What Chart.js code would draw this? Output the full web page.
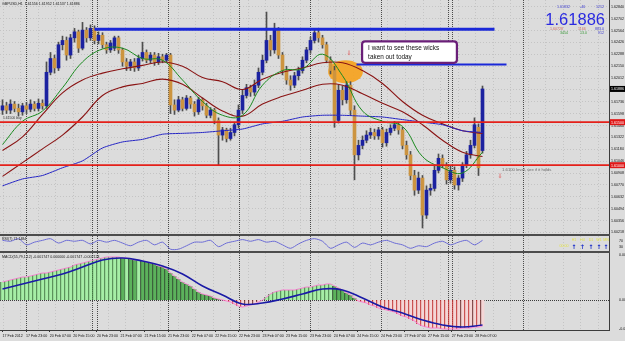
<!DOCTYPE html>
<html><head><meta charset="utf-8">
<script src="https://cdn.jsdelivr.net/npm/chart.js@4.4.1/dist/chart.umd.min.js"></script>
<style>
html,body{margin:0;padding:0;background:#dcdcdc;}
body{width:625px;height:341px;position:relative;overflow:hidden;}
canvas{position:absolute;left:0;}
.sep{position:absolute;left:0;width:610px;height:2px;background:#4c4c4c;}
</style></head><body>
<canvas id="cPrice" width="625" height="234" style="top:0"></canvas>
<div class="sep" style="top:234px"></div>
<canvas id="cRsi" width="625" height="15" style="top:236px"></canvas>
<div class="sep" style="top:251px"></div>
<canvas id="cMacd" width="625" height="88" style="top:253px"></canvas>
<script>
// ---------------- DATA ----------------
const symbolTitle = 'GBPUSD,H1  1.61556 1.61952 1.61537 1.61886';
const opens = [1.6164,1.6169,1.6164,1.6171,1.6166,1.6162,1.6169,1.6165,1.6171,1.6166,
1.6172,1.6169,1.6208,1.6224,1.6213,1.6240,1.6245,1.6228,1.6248,1.6255,
1.6236,1.6257,1.6248,1.6259,1.6245,1.6251,1.6240,1.6234,1.6236,1.6248,
1.6234,1.6220,1.6215,1.6220,1.6213,1.6224,1.6231,1.6222,1.6228,1.6220,
1.6226,1.6222,1.6228,1.6170,1.6164,1.6176,1.6166,1.6178,1.6171,1.6162,
1.6176,1.6169,1.6158,1.6164,1.6152,1.6135,1.6141,1.6131,1.6138,1.6147,
1.6164,1.6181,1.6190,1.6185,1.6193,1.6208,1.6222,1.6245,1.6234,1.6257,
1.6228,1.6210,1.6199,1.6193,1.6204,1.6210,1.6222,1.6234,1.6245,1.6254,
1.6248,1.6240,1.6222,1.6210,1.6152,1.6187,1.6176,1.6193,1.6164,1.6112,
1.6123,1.6129,1.6135,1.6138,1.6134,1.6141,1.6126,1.6138,1.6143,1.6147,
1.6141,1.6123,1.6112,1.6088,1.6071,1.6085,1.6042,1.6071,1.6073,1.6094,
1.6108,1.6100,1.6083,1.6094,1.6077,1.6085,1.6100,1.6112,1.6123,1.6144,
1.6117];
const highs = [1.6176,1.6173,1.6176,1.6174,1.6171,1.6172,1.6173,1.6176,1.6174,1.6177,
1.6176,1.6220,1.6231,1.6228,1.6243,1.6250,1.6249,1.6252,1.6259,1.6257,
1.6266,1.6260,1.6263,1.6262,1.6255,1.6254,1.6243,1.6245,1.6250,1.6250,
1.6236,1.6224,1.6223,1.6224,1.6228,1.6243,1.6234,1.6231,1.6231,1.6230,
1.6229,1.6230,1.6230,1.6176,1.6180,1.6179,1.6181,1.6180,1.6174,1.6179,
1.6178,1.6172,1.6167,1.6166,1.6155,1.6144,1.6143,1.6143,1.6150,1.6170,
1.6187,1.6194,1.6193,1.6199,1.6213,1.6228,1.6278,1.6251,1.6265,1.6260,
1.6231,1.6215,1.6204,1.6208,1.6214,1.6226,1.6237,1.6249,1.6257,1.6257,
1.6251,1.6243,1.6226,1.6215,1.6193,1.6192,1.6197,1.6197,1.6169,1.6129,
1.6134,1.6140,1.6143,1.6142,1.6144,1.6144,1.6142,1.6147,1.6151,1.6150,
1.6144,1.6128,1.6116,1.6094,1.6092,1.6088,1.6076,1.6078,1.6099,1.6113,
1.6112,1.6103,1.6099,1.6098,1.6088,1.6103,1.6116,1.6129,1.6155,1.6148,
1.6192];
const lows = [1.6159,1.6160,1.6160,1.6162,1.6157,1.6158,1.6160,1.6162,1.6163,1.6163,
1.6165,1.6166,1.6205,1.6207,1.6210,1.6234,1.6222,1.6224,1.6243,1.6231,
1.6234,1.6243,1.6245,1.6241,1.6241,1.6236,1.6230,1.6231,1.6233,1.6230,
1.6215,1.6210,1.6210,1.6209,1.6210,1.6221,1.6219,1.6219,1.6216,1.6217,
1.6219,1.6220,1.6160,1.6159,1.6162,1.6163,1.6164,1.6166,1.6157,1.6159,
1.6164,1.6155,1.6155,1.6148,1.6100,1.6129,1.6127,1.6129,1.6134,1.6143,
1.6160,1.6178,1.6180,1.6181,1.6190,1.6205,1.6219,1.6227,1.6230,1.6224,
1.6205,1.6194,1.6187,1.6190,1.6199,1.6207,1.6219,1.6230,1.6242,1.6243,
1.6236,1.6219,1.6206,1.6144,1.6149,1.6170,1.6172,1.6158,1.6083,1.6106,
1.6119,1.6126,1.6131,1.6130,1.6130,1.6121,1.6122,1.6135,1.6140,1.6136,
1.6119,1.6107,1.6083,1.6065,1.6067,1.6027,1.6038,1.6065,1.6070,1.6091,
1.6097,1.6078,1.6079,1.6072,1.6071,1.6081,1.6097,1.6108,1.6120,1.6088,
1.6114];
const closes = [1.6169,1.6164,1.6171,1.6166,1.6162,1.6169,1.6165,1.6171,1.6166,1.6172,
1.6169,1.6208,1.6224,1.6213,1.6240,1.6245,1.6228,1.6248,1.6255,1.6236,
1.6257,1.6248,1.6259,1.6245,1.6251,1.6240,1.6234,1.6242,1.6248,1.6234,
1.6220,1.6215,1.6220,1.6213,1.6224,1.6231,1.6222,1.6228,1.6220,1.6226,
1.6222,1.6228,1.6170,1.6164,1.6176,1.6166,1.6178,1.6171,1.6162,1.6176,
1.6169,1.6158,1.6164,1.6152,1.6135,1.6141,1.6131,1.6138,1.6147,1.6164,
1.6181,1.6190,1.6185,1.6193,1.6208,1.6222,1.6245,1.6234,1.6257,1.6228,
1.6210,1.6199,1.6193,1.6204,1.6210,1.6222,1.6234,1.6245,1.6254,1.6248,
1.6240,1.6222,1.6210,1.6152,1.6187,1.6176,1.6193,1.6164,1.6112,1.6123,
1.6129,1.6135,1.6138,1.6134,1.6141,1.6126,1.6138,1.6143,1.6147,1.6141,
1.6123,1.6112,1.6088,1.6071,1.6085,1.6042,1.6071,1.6073,1.6094,1.6108,
1.6100,1.6083,1.6094,1.6077,1.6085,1.6100,1.6112,1.6123,1.6147,1.6097,
1.61886];

// moving averages, one reading every 5 bars
const maStep = 5;
const maGreen = [1.6124,1.6151,1.6163,1.6190,1.6220,1.6235,1.6236,1.6224,1.6222,1.6199,1.6174,1.6158,1.6158,1.6193,1.6210,1.6212,1.6229,1.6204,1.6163,1.6151,1.6145,1.6110,1.6097,1.6091,1.6115];
const maRed1 = [1.6117,1.6133,1.6159,1.6184,1.6199,1.6207,1.6212,1.6216,1.6220,1.6215,1.6202,1.6197,1.6188,1.6200,1.6208,1.6213,1.6219,1.6219,1.6210,1.6195,1.6174,1.6158,1.6148,1.6140,1.6137];
const maRed2 = [1.6087,1.6103,1.6119,1.6135,1.6156,1.6181,1.6191,1.6195,1.6200,1.6194,1.6178,1.6163,1.6157,1.6171,1.6180,1.6187,1.6194,1.6193,1.6183,1.6172,1.6162,1.6147,1.6129,1.6115,1.6110];
const maBlue = [1.6076,1.6084,1.6088,1.6097,1.6105,1.6120,1.6127,1.6130,1.6136,1.6137,1.6138,1.6140,1.6142,1.6148,1.6151,1.6156,1.6158,1.6158,1.6157,1.6156,1.6153,1.6150,1.6147,1.6140,1.6138];

// horizontal levels
const redLevels = [1.6150, 1.6100];
const blueLevels = [1.6258, 1.6217];
const blueFrom = [23, 88.5];
const blueTo = [123, 126];
const blueWidths = [3, 2];

// price axis ticks
const priceTicks = [1.62840,1.62702,1.62564,1.62426,1.62288,1.62150,1.62012,1.61874,1.61736,1.61598,1.61460,1.61322,1.61184,1.61046,1.60908,1.60770,1.60632,1.60494,1.60356,1.60218];

// RSI(7), one reading every 2 bars
const rsiStep = 2;
const rsi = [71,65,82,41,59,71,82,53,71,65,71,47,71,59,71,53,35,59,71,41,59,12,12,35,59,59,71,29,53,65,76,65,76,59,65,41,18,47,71,82,65,18,41,59,24,53,41,59,71,53,41,18,35,29,53,65,41,59,71,41,71];

// MACD histogram (per bar) and signal (every 5 bars)
const macdHist = [0.0018,0.0019,0.0020,0.0021,0.0022,0.0023,0.0023,0.0024,0.0025,0.0026,
0.0027,0.0027,0.0028,0.0029,0.0030,0.0031,0.0032,0.0033,0.0035,0.0036,
0.0037,0.0038,0.0039,0.0040,0.0041,0.0042,0.0043,0.0043,0.0043,0.0043,
0.0042,0.0042,0.0041,0.0040,0.0040,0.0039,0.0038,0.0037,0.0036,0.0034,
0.0033,0.0031,0.0027,0.0024,0.0021,0.0018,0.0016,0.0014,0.0011,0.0008,
0.0006,0.0005,0.0004,0.0002,0.0001,0.0000,-0.0001,-0.0002,-0.0004,-0.0006,
-0.0007,-0.0006,-0.0005,-0.0004,-0.0002,0.0000,0.0003,0.0006,0.0008,0.0009,
0.0010,0.0010,0.0010,0.0010,0.0011,0.0012,0.0013,0.0013,0.0014,0.0015,
0.0015,0.0016,0.0016,0.0014,0.0012,0.0010,0.0007,0.0005,0.0002,-0.0001,
-0.0002,-0.0003,-0.0005,-0.0006,-0.0008,-0.0009,-0.0010,-0.0011,-0.0012,-0.0014,
-0.0016,-0.0017,-0.0019,-0.0021,-0.0024,-0.0026,-0.0027,-0.0028,-0.0028,-0.0028,
-0.0029,-0.0029,-0.0029,-0.0029,-0.0029,-0.0028,-0.0028,-0.0028,-0.0027,-0.0027,
-0.0026];
const macdSignal = [0.0011,0.0016,0.0021,0.0026,0.0033,0.0040,0.0042,0.0039,0.0034,0.0026,0.0014,0.0005,-0.0004,-0.0003,0.0001,0.0006,0.0011,0.0010,0.0002,-0.0007,-0.0013,-0.0020,-0.0025,-0.0027,-0.0025];
const macdTicks = [0.0045, 0, -0.0029];
const macdTickText = ['0.004235', '0.00', '-0.002919'];

// time axis (bar index of each label)
const timeIdx = [0,5.9,11.8,17.7,23.6,29.5,35.5,41.4,47.3,53.2,59.1,65,70.9,76.9,82.8,88.7,94.6,100.5,106.4,112.3,118.2];
const timeLabels = ['17 Feb 2012','17 Feb 23:00','20 Feb 07:00','20 Feb 15:00','20 Feb 23:00','21 Feb 07:00','21 Feb 15:00','21 Feb 23:00','22 Feb 07:00','22 Feb 15:00','22 Feb 23:00','23 Feb 07:00','23 Feb 15:00','23 Feb 23:00','24 Feb 07:00','24 Feb 15:00','24 Feb 23:00','27 Feb 07:00','27 Feb 15:00','27 Feb 23:00','28 Feb 07:00'];
const separatorIdx = [5.9,22.3,23.6,41.4,59.1,76.9,94.6,111.3,112.3,130.2];

// annotations
const noteLines = ['I want to see these wicks', 'taken out today'];
const noteIdx = [89.9, 113.6];
const notePrice = [1.6244, 1.6219];
const focusIdx = 85.75, focusPrice = 1.62087, focusHalfW = 4.35, focusHalfH = 0.00134;
const levelNote = '1.6100 level, see if it holds';
const levelNoteIdx = 124.9, levelNotePrice = 1.6093;
const arrowMarks = [[86.6, 1.6228], [124.4, 1.6085]];
const lineLabel = '1.61500 buy';
const bid = 1.61886;
const infoTop = ['1.61832', '-46', '1212'];
const infoRow2 = ['1.60728', '1166', '883.0'];
const infoRow3 = ['3454', '13.0', '912'];
const rsiTitle = 'RSI(7) 71.1484';
const tfLabels = ['H1','H4','D1','W1','MN'];
const macdTitle = 'MACD(55,79,1,12) -0.001747 0.000000 -0.001747 -0.002124';

// ---------------- RENDER ----------------
const SANS = '"Liberation Sans", Arial, sans-serif';
Chart.defaults.font.family = SANS;
const xMin = -0.625, xMax = 151.625, AXW = 16, GRID_STEP = 4.375;
const idx = closes.map((_, i) => i);

function txt(ctx, s, x, y, size, color, align, weight, family) {
  ctx.font = (weight || 'normal') + ' ' + size + 'px ' + (family || SANS);
  ctx.fillStyle = color; ctx.textAlign = align || 'left'; ctx.textBaseline = 'alphabetic';
  ctx.fillText(s, x, y);
}
function drawVGrid(c) {
  const {ctx, chartArea: a, scales: {x}} = c;
  ctx.save();
  ctx.lineWidth = 1;
  ctx.strokeStyle = '#c4c4c4'; ctx.setLineDash([1, 2]);
  for (let v = 0; v <= xMax; v += GRID_STEP) {
    const px = Math.round(x.getPixelForValue(v)) + 0.5;
    ctx.beginPath(); ctx.moveTo(px, a.top); ctx.lineTo(px, a.bottom); ctx.stroke();
  }
  ctx.strokeStyle = '#4a4a4a'; ctx.setLineDash([1, 1]);
  separatorIdx.forEach(v => {
    const px = Math.round(x.getPixelForValue(v)) + 0.5;
    ctx.beginPath(); ctx.moveTo(px, a.top); ctx.lineTo(px, a.bottom); ctx.stroke();
  });
  ctx.restore();
}
function drawAxisLine(c) {
  const {ctx, chartArea: a} = c;
  ctx.save(); ctx.strokeStyle = '#3c3c3c'; ctx.lineWidth = 1;
  ctx.beginPath(); ctx.moveTo(a.right + 0.5, 0); ctx.lineTo(a.right + 0.5, a.bottom); ctx.stroke();
  ctx.restore();
}
function axisTag(c, value, text, bg) {
  const {ctx, chartArea: a, scales: {y}} = c;
  const py = y.getPixelForValue(value);
  ctx.save(); ctx.fillStyle = bg; ctx.fillRect(a.right + 1, py - 3, 15, 6);
  txt(ctx, text, a.right + 2, py + 1.5, 3.6, '#ffffff');
  ctx.restore();
}
const hiddenX = {type: 'linear', min: xMin, max: xMax, display: false, offset: false, grid: {offset: false}};
function yRight(extra) {
  return Object.assign({
    position: 'right',
    afterFit(s) { s.width = AXW; s.paddingTop = 0; s.paddingBottom = 0; },
    ticks: {font: {size: 3.6}, color: '#111', padding: 2},
    grid: {drawTicks: false, color: '#c4c4c4'},
    border: {display: false, dash: [1, 2]}
  }, extra);
}

// ---- price chart ----
const bull = '#1c22a0', bear = '#cc9440';
const pricePlugin = {
  id: 'pricePlugin',
  beforeDatasetsDraw(c) {
    const {ctx, scales: {x, y}} = c;
    drawVGrid(c);
    const cx = x.getPixelForValue(focusIdx), cy = y.getPixelForValue(focusPrice);
    const rx = x.getPixelForValue(focusIdx + focusHalfW) - cx;
    const ry = cy - y.getPixelForValue(focusPrice + focusHalfH);
    ctx.save(); ctx.fillStyle = 'rgba(245,162,32,0.93)';
    ctx.beginPath(); ctx.ellipse(cx, cy, rx, ry, 0, 0, Math.PI * 2); ctx.fill(); ctx.restore();
  },
  afterDraw(c) {
    const {ctx, chartArea: a, scales: {x, y}} = c;
    drawAxisLine(c);
    txt(ctx, symbolTitle, 2, 5, 3.6, '#1a1a1a');
    txt(ctx, lineLabel, 3, y.getPixelForValue(1.6150) - 3, 3.4, '#303030');
    // note box
    const bx0 = x.getPixelForValue(noteIdx[0]), bx1 = x.getPixelForValue(noteIdx[1]);
    const by0 = y.getPixelForValue(notePrice[0]), by1 = y.getPixelForValue(notePrice[1]);
    ctx.save();
    ctx.beginPath(); ctx.roundRect(bx0, by0, bx1 - bx0, by1 - by0, 3);
    ctx.fillStyle = '#ffffff'; ctx.fill(); ctx.lineWidth = 2.2; ctx.strokeStyle = '#6a1f78'; ctx.stroke();
    ctx.restore();
    noteLines.forEach((s, k) => txt(ctx, s, bx0 + 6, by0 + 9 + k * 9, 6.4, '#111'));
    // arrows and level note
    arrowMarks.forEach(m => txt(ctx, '\u21E9', x.getPixelForValue(m[0]), y.getPixelForValue(m[1]), 6, '#e04848', 'center', 'normal', '"DejaVu Sans", sans-serif'));
    txt(ctx, levelNote, x.getPixelForValue(levelNoteIdx), y.getPixelForValue(levelNotePrice), 4.2, '#6a6a6a');
    // top-right info
    const R = a.right - 5;
    txt(ctx, infoTop[0], R - 47, 8, 3.6, '#3a3ad0');
    txt(ctx, infoTop[1], R - 24, 8, 3.6, '#3a3ad0');
    txt(ctx, infoTop[2], R, 8, 3.6, '#3a3ad0', 'right');
    txt(ctx, bid.toFixed(5), R + 1, 25, 16.5, '#2a2ae0', 'right');
    txt(ctx, infoRow2[0], R - 54, 29.5, 3.6, '#d07060');
    txt(ctx, infoRow2[1], R - 26, 29.5, 3.6, '#d07060');
    txt(ctx, infoRow2[2], R, 29.5, 3.6, '#3a3ad0', 'right');
    txt(ctx, infoRow3[0], R - 44, 33.5, 3.6, '#3a9a3a');
    txt(ctx, infoRow3[1], R - 24, 33.5, 3.6, '#3a9a3a');
    txt(ctx, infoRow3[2], R, 33.5, 3.6, '#3a3ad0', 'right');
    // axis tags
    axisTag(c, bid, bid.toFixed(5), '#000000');
    redLevels.forEach(v => axisTag(c, v, v.toFixed(5), '#e01818'));
  }
};
const priceDatasets = [];
redLevels.forEach(v => priceDatasets.push({type: 'line', data: [{x: xMin, y: v}, {x: xMax, y: v}], borderColor: '#e4201a', borderWidth: 1.7, pointRadius: 0, order: 1}));
blueLevels.forEach((v, k) => priceDatasets.push({type: 'line', data: [{x: blueFrom[k], y: v}, {x: blueTo[k], y: v}], borderColor: '#1a28d8', borderWidth: blueWidths[k], pointRadius: 0, order: 1}));
const maPts = arr => arr.map((v, k) => ({x: k * maStep, y: v}));
priceDatasets.push({type: 'line', data: maPts(maBlue), borderColor: '#2424c4', borderWidth: 1, pointRadius: 0, tension: 0.2, order: 4});
priceDatasets.push({type: 'line', data: maPts(maRed2), borderColor: '#8a1414', borderWidth: 1.1, pointRadius: 0, tension: 0.4, order: 4});
priceDatasets.push({type: 'line', data: maPts(maRed1), borderColor: '#8a1414', borderWidth: 1.1, pointRadius: 0, tension: 0.4, order: 4});
priceDatasets.push({type: 'line', data: maPts(maGreen), borderColor: '#1a8a1e', borderWidth: 1, pointRadius: 0, tension: 0.4, order: 3});
priceDatasets.push({type: 'bar', data: idx.map(i => ({x: i, y: [lows[i], highs[i]]})), backgroundColor: '#4e4e4e', barThickness: 1, grouped: false, order: 10});
priceDatasets.push({type: 'bar', data: idx.map(i => ({x: i, y: [opens[i], closes[i]]})), backgroundColor: closes.map((v, i) => v >= opens[i] ? bull : bear), barThickness: 3, minBarLength: 1, grouped: false, order: 9});

new Chart(document.getElementById('cPrice'), {
  type: 'bar',
  data: {datasets: priceDatasets},
  options: {
    responsive: false, devicePixelRatio: 1, animation: false, events: [],
    layout: {padding: 0},
    plugins: {legend: {display: false}, tooltip: {enabled: false}},
    scales: {
      x: hiddenX,
      y: yRight({min: 1.6020, max: 1.6292,
        afterBuildTicks(s) { s.ticks = priceTicks.map(v => ({value: v})); },
        ticks: {font: {size: 3.6}, color: '#111', padding: 2, callback: v => v.toFixed(5)}})
    }
  },
  plugins: [pricePlugin]
});

// ---- RSI chart ----
const rsiPlugin = {
  id: 'rsiPlugin',
  beforeDatasetsDraw(c) { drawVGrid(c); },
  afterDraw(c) {
    const {ctx, chartArea: a} = c;
    drawAxisLine(c);
    txt(ctx, rsiTitle, 2, 4, 3.6, '#1a1a1a');
    const xs = [574, 582.5, 591, 599, 606];
    tfLabels.forEach((s, k) => txt(ctx, s, xs[k], 5, 3.6, '#e2e24a', 'center'));
    txt(ctx, '00:00', 564, 11, 3.6, '#e2e24a', 'center');
    xs.forEach(px => txt(ctx, '\u2191', px, 12.5, 6, '#1428c8', 'center', 'bold', '"DejaVu Sans", sans-serif'));
  }
};
new Chart(document.getElementById('cRsi'), {
  type: 'line',
  data: {datasets: [{data: rsi.map((v, k) => ({x: k * rsiStep, y: v})), borderColor: '#6c6cd6', borderWidth: 1, pointRadius: 0, tension: 0.25}]},
  options: {
    responsive: false, devicePixelRatio: 1, animation: false, events: [],
    layout: {padding: 0},
    plugins: {legend: {display: false}, tooltip: {enabled: false}},
    scales: {
      x: hiddenX,
      y: yRight({min: 0, max: 100,
        afterBuildTicks(s) { s.ticks = [{value: 70}, {value: 30}]; },
        grid: {display: false}})
    }
  },
  plugins: [rsiPlugin]
});

// ---- MACD chart ----
const histFill = macdHist.map((v, i) => {
  const p = i ? macdHist[i - 1] : v;
  if (v >= 0) return v >= p ? '#a6eea6' : '#5cb25c';
  return '#f4d6d6';
});
const histEdge = macdHist.map((v, i) => {
  const p = i ? macdHist[i - 1] : v;
  if (v >= 0) return v >= p ? '#2e6e2e' : '#0e320e';
  return v <= p ? '#c01616' : '#5a1010';
});
const macdPlugin = {
  id: 'macdPlugin',
  beforeDatasetsDraw(c) {
    const {ctx, chartArea: a, scales: {y}} = c;
    drawVGrid(c);
    const py = Math.round(y.getPixelForValue(0)) + 0.5;
    ctx.save(); ctx.strokeStyle = '#3a3a3a'; ctx.setLineDash([1, 1]); ctx.lineWidth = 1;
    ctx.beginPath(); ctx.moveTo(a.left, py); ctx.lineTo(a.right, py); ctx.stroke(); ctx.restore();
  },
  afterDraw(c) {
    const {ctx, chartArea: a} = c;
    drawAxisLine(c);
    ctx.save(); ctx.strokeStyle = '#3c3c3c'; ctx.lineWidth = 1;
    ctx.beginPath(); ctx.moveTo(0, a.bottom + 0.5); ctx.lineTo(a.right + 1, a.bottom + 0.5); ctx.stroke(); ctx.restore();
    txt(ctx, macdTitle, 2, 4.5, 3.6, '#1a1a1a');
  }
};
new Chart(document.getElementById('cMacd'), {
  type: 'bar',
  data: {datasets: [
    {type: 'line', data: macdSignal.map((v, k) => ({x: k * maStep, y: v})), borderColor: '#1a1aa6', borderWidth: 1.6, pointRadius: 0, tension: 0.4, order: 1},
    {type: 'line', data: idx.map(i => ({x: i, y: macdHist[i]})), borderColor: '#ff72d2', borderWidth: 1, pointRadius: 0, tension: 0.2, order: 2},
    {type: 'bar', data: idx.map(i => ({x: i, y: macdHist[i]})), backgroundColor: histFill, borderColor: histEdge,
      borderWidth: {left: 1, right: 0, top: 0, bottom: 0}, borderSkipped: false, barThickness: 4, order: 5}
  ]},
  options: {
    responsive: false, devicePixelRatio: 1, animation: false, events: [],
    layout: {padding: 0},
    plugins: {legend: {display: false}, tooltip: {enabled: false}},
    scales: {
      x: {type: 'linear', min: xMin, max: xMax, position: 'bottom', offset: false,
        afterBuildTicks(s) { s.ticks = timeIdx.map(v => ({value: v})); },
        afterFit(s) { s.height = 11; s.paddingLeft = 0; s.paddingRight = 0; },
        ticks: {autoSkip: false, maxRotation: 0, minRotation: 0, align: 'start', padding: 1.5,
          font: {size: 3.6}, color: '#111', callback: (v, i) => timeLabels[i]},
        grid: {display: true, offset: false, drawOnChartArea: false, drawTicks: true, tickLength: 2, color: '#333'},
        border: {display: false}},
      y: yRight({min: -0.0030, max: 0.0047,
        afterBuildTicks(s) { s.ticks = macdTicks.map(v => ({value: v})); },
        ticks: {font: {size: 3.6}, color: '#111', padding: 2, callback: (v, i) => macdTickText[i]},
        grid: {display: false}})
    }
  },
  plugins: [macdPlugin]
});
</script>
</body></html>
